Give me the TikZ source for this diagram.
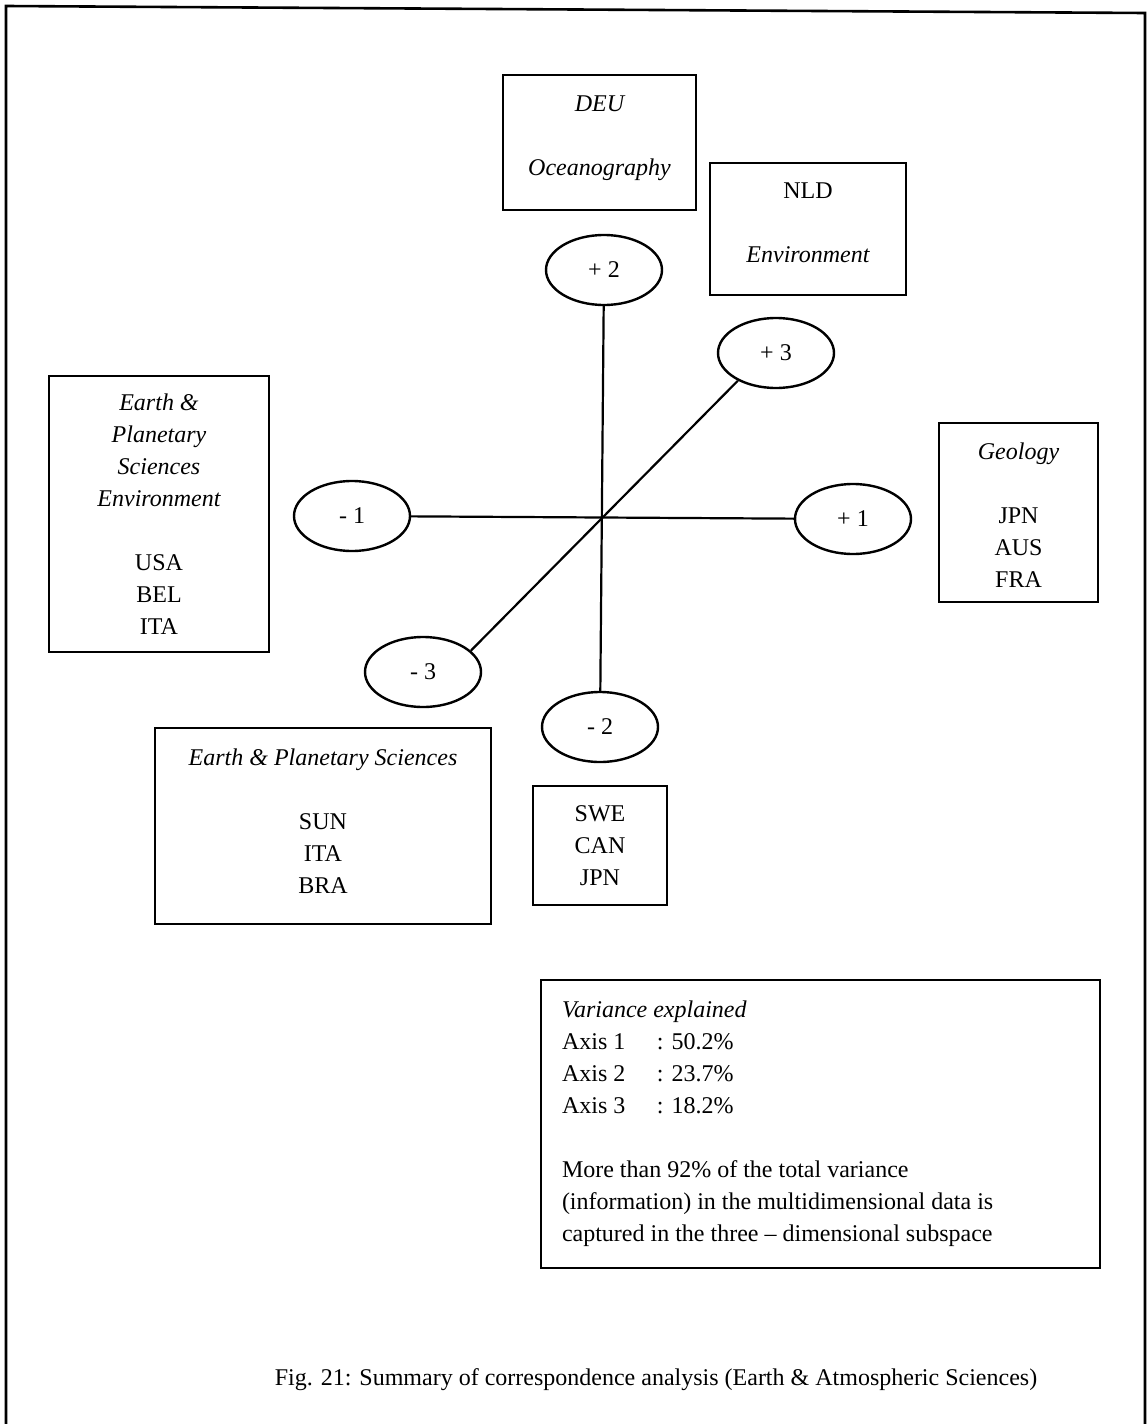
\documentclass[tikz,border=0pt]{standalone}
\usepackage{fontspec}
\setmainfont{Liberation Serif}
\usetikzlibrary{shapes.geometric}
\begin{document}
\begin{tikzpicture}[x=1pt,y=-1pt,
  every node/.style={font=\fontsize{24}{32}\selectfont},
  lbox/.style={draw,line width=2.2pt,align=center,inner sep=0pt},
  axisell/.style={draw,ellipse,line width=2.4pt,minimum width=116pt,minimum height=70pt,inner sep=0pt},
  axisline/.style={line width=2.2pt}]
\useasboundingbox (0,0) rectangle (1148,1424);
\coordinate (bl) at (6,1424);
\coordinate (tl) at (6,6);
\coordinate (tr) at (1145,13);
\coordinate (br) at (1145,1424);
\draw[line width=2.6pt] (bl) -- (tl) -- (tr) -- (br);

% boxes
\node[lbox,minimum width=193pt,minimum height=135pt] (deu) at (599.5,142.5)
  {\parbox{190pt}{\centering\itshape DEU\\[32pt]Oceanography\par\vspace{8pt}}};
\node[lbox,minimum width=196pt,minimum height=132pt] (nld) at (808,229)
  {\parbox{190pt}{\centering NLD\\[32pt]\itshape Environment\par\vspace{12pt}}};
\node[lbox,minimum width=220pt,minimum height=276pt] (left) at (159,514)
  {\parbox{215pt}{\centering\itshape Earth \&\\ Planetary\\ Sciences\\ Environment\\[32pt]\upshape USA\\ BEL\\ ITA}};
\node[lbox,minimum width=159pt,minimum height=179pt] (geo) at (1018.5,512.5)
  {\parbox{155pt}{\vspace*{6pt}\centering\itshape Geology\\[32pt]\upshape JPN\\ AUS\\ FRA}};
\node[lbox,minimum width=336pt,minimum height=196pt] (eps) at (323,826)
  {\parbox{330pt}{\centering\itshape Earth \& Planetary Sciences\\[32pt]\upshape SUN\\ ITA\\ BRA\par\vspace{10pt}}};
\node[lbox,minimum width=134pt,minimum height=119pt] (swe) at (600,845.5)
  {\parbox{130pt}{\centering SWE\\ CAN\\ JPN}};

% ellipses
\node[axisell] (p2) at (604,270) {+ 2};
\node[axisell] (p3) at (776,353) {+ 3};
\node[axisell] (m1) at (352,516) {- 1};
\node[axisell] (p1) at (853,519) {+ 1};
\node[axisell] (m3) at (423,672) {- 3};
\node[axisell] (m2) at (600,727) {- 2};

\draw[axisline] (p2) -- (m2);
\draw[axisline] (m1) -- (p1);
\draw[axisline] (p3.216) -- (m3.24);

% variance box
\node[lbox,minimum width=559pt,minimum height=288pt] (var) at (820.5,1124)
  {\parbox{517pt}{\raggedright\itshape Variance explained\\\upshape
   \makebox[95pt][l]{Axis 1}: 50.2\%\\
   \makebox[95pt][l]{Axis 2}: 23.7\%\\
   \makebox[95pt][l]{Axis 3}: 18.2\%\\[32pt]
   More than 92\% of the total variance\\
   (information) in the multidimensional data is\\
   captured in the three -- dimensional subspace}};

\node[inner sep=0pt] (cap) at (656,1380) {Fig. 21: Summary of correspondence analysis (Earth \& Atmospheric Sciences)};
\end{tikzpicture}
\end{document}
